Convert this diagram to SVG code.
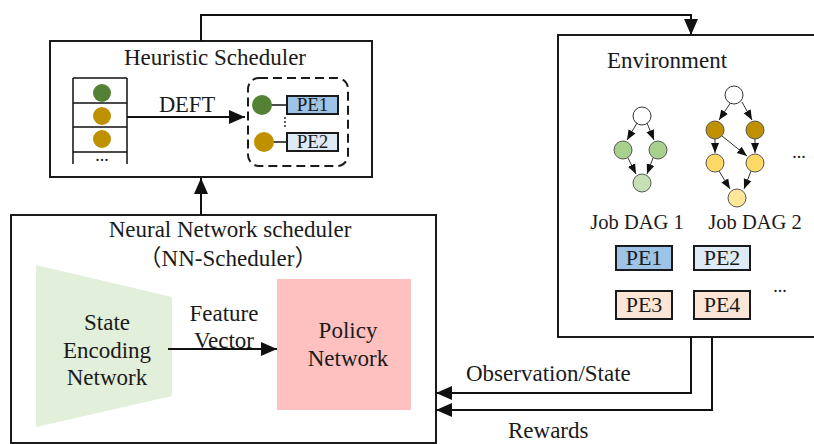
<svg xmlns="http://www.w3.org/2000/svg" width="814" height="444" viewBox="0 0 814 444" font-family="'Liberation Serif', 'Times New Roman', serif" font-size="23" fill="#1a1a1a">
<defs>
<style>
.box{fill:#fff;stroke:#1a1a1a;stroke-width:2}
.ln{fill:none;stroke:#111;stroke-width:2}
.thin{fill:none;stroke:#111;stroke-width:1.5}
.pe{stroke:#1a1a1a;stroke-width:2}
.dn{stroke:#333;stroke-width:1}
</style>
<marker id="ah" markerUnits="userSpaceOnUse" markerWidth="16" markerHeight="16" viewBox="0 0 16 16" refX="16" refY="8" orient="auto">
<path d="M0,1 L16,8 L0,15 Z" fill="#111"/>
</marker>
<marker id="as" markerUnits="userSpaceOnUse" markerWidth="10" markerHeight="10" viewBox="0 0 10 10" refX="10" refY="5" orient="auto">
<path d="M0,1 L10,5 L0,9 Z" fill="#111"/>
</marker>
</defs>

<g id="heuristic">
<rect class="box" x="50" y="41" width="322" height="136"/>
<text x="215" y="65" text-anchor="middle">Heuristic Scheduler</text>
<path class="thin" d="M73,164 V78 M127,164 V78 M73,78 H127 M73,103 H127 M73,127 H127 M73,152 H127"/>
<circle cx="102" cy="93" r="9" fill="#548235"/>
<circle cx="102" cy="116" r="9" fill="#BF9000"/>
<circle cx="102" cy="139" r="9" fill="#BF9000"/>
<text x="102" y="161" text-anchor="middle" font-size="18">...</text>
<text x="187" y="112" text-anchor="middle" font-size="22.5">DEFT</text>
<rect x="248" y="78" width="100" height="88" rx="11" fill="none" stroke="#1a1a1a" stroke-width="2" stroke-dasharray="9,5"/>
<line x1="262" y1="105" x2="287" y2="105" stroke="#111" stroke-width="1.5"/>
<line x1="264" y1="142" x2="287" y2="142" stroke="#111" stroke-width="1.5"/>
<circle cx="262" cy="105" r="10" fill="#548235"/>
<circle cx="264" cy="142" r="10" fill="#BF9000"/>
<rect class="pe" x="287" y="96" width="51" height="18" fill="#9DC3E6"/>
<text x="312.5" y="111" text-anchor="middle" font-size="19">PE1</text>
<rect class="pe" x="287" y="133" width="51" height="18" fill="#DEEBF7"/>
<text x="312.5" y="148" text-anchor="middle" font-size="19">PE2</text>
<circle cx="285" cy="118" r="0.9" fill="#111"/>
<circle cx="285" cy="122" r="0.9" fill="#111"/>
<circle cx="285" cy="126" r="0.9" fill="#111"/>
</g>

<g id="environment">
<rect class="box" x="558" y="35" width="270" height="302"/>
<text x="607" y="68">Environment</text>
<g id="dag1">
<line class="dn" x1="637" y1="123" x2="627" y2="140" marker-end="url(#as)"/>
<line class="dn" x1="647" y1="123" x2="654" y2="140" marker-end="url(#as)"/>
<line class="dn" x1="628" y1="158" x2="636" y2="174" marker-end="url(#as)"/>
<line class="dn" x1="653" y1="158" x2="647" y2="174" marker-end="url(#as)"/>
<circle cx="642" cy="116" r="9" fill="#fff" stroke="#333"/>
<circle cx="623" cy="150" r="9" fill="#A9D18E" stroke="#555"/>
<circle cx="658" cy="150" r="9" fill="#A9D18E" stroke="#555"/>
<circle cx="642" cy="183" r="9" fill="#C5E0B4" stroke="#555"/>
<text x="637" y="229" text-anchor="middle" font-size="20.5">Job DAG 1</text>
</g>
<g id="dag2">
<line class="dn" x1="731" y1="102" x2="719" y2="120" marker-end="url(#as)"/>
<line class="dn" x1="742" y1="102" x2="752" y2="120" marker-end="url(#as)"/>
<line class="dn" x1="715" y1="139" x2="715" y2="153" marker-end="url(#as)"/>
<line class="dn" x1="722" y1="136" x2="747" y2="156" marker-end="url(#as)"/>
<line class="dn" x1="755" y1="139" x2="755" y2="153" marker-end="url(#as)"/>
<line class="dn" x1="719" y1="171" x2="730" y2="189" marker-end="url(#as)"/>
<line class="dn" x1="751" y1="171" x2="744" y2="189" marker-end="url(#as)"/>
<circle cx="734" cy="95" r="9" fill="#fff" stroke="#333"/>
<circle cx="715" cy="130" r="9" fill="#BF9000" stroke="#555"/>
<circle cx="755" cy="130" r="9" fill="#BF9000" stroke="#555"/>
<circle cx="715" cy="163" r="9" fill="#FFD966" stroke="#555"/>
<circle cx="755" cy="163" r="9" fill="#FFD966" stroke="#555"/>
<circle cx="737" cy="198" r="9" fill="#FFE699" stroke="#555"/>
<text x="755" y="229" text-anchor="middle" font-size="20.5">Job DAG 2</text>
</g>
<text x="799" y="158" text-anchor="middle" font-size="18">...</text>
<rect class="pe" x="616" y="246" width="56" height="24" fill="#9DC3E6"/>
<text x="644" y="265" text-anchor="middle" font-size="22">PE1</text>
<rect class="pe" x="694" y="246" width="56" height="24" fill="#DEEBF7"/>
<text x="722" y="265" text-anchor="middle" font-size="22">PE2</text>
<rect class="pe" x="616" y="291" width="56" height="28" fill="#FBE5D6"/>
<text x="644" y="312" text-anchor="middle" font-size="22">PE3</text>
<rect class="pe" x="694" y="291" width="56" height="28" fill="#FBE5D6"/>
<text x="722" y="312" text-anchor="middle" font-size="22">PE4</text>
<text x="780" y="292" text-anchor="middle" font-size="18">...</text>
</g>

<g id="nn-scheduler">
<rect class="box" x="11" y="215" width="425" height="228"/>
<text x="230" y="237" text-anchor="middle">Neural Network scheduler</text>
<text x="228" y="266" text-anchor="middle" font-family="'Liberation Serif', 'Noto Sans CJK SC', serif">（NN-Scheduler）</text>
<g id="state-encoding">
<path d="M36,265 L172,297 L172,396 L36,427 Z" fill="#E2EFDA"/>
<text x="107" y="330" text-anchor="middle">State</text>
<text x="107" y="358" text-anchor="middle">Encoding</text>
<text x="107" y="385" text-anchor="middle">Network</text>
</g>
<g id="policy">
<rect x="277" y="279" width="134" height="131" fill="#FFC0C0"/>
<text x="348" y="338" text-anchor="middle">Policy</text>
<text x="348" y="366" text-anchor="middle">Network</text>
</g>
<text x="224" y="321" text-anchor="middle">Feature</text>
<text x="224" y="348" text-anchor="middle">Vector</text>
</g>

<g id="connectors">
<path class="ln" d="M127,117 H245" marker-end="url(#ah)"/>
<path class="ln" d="M168,349 H277" marker-end="url(#ah)"/>
<path class="ln" d="M201,215 V178" marker-end="url(#ah)"/>
<path class="ln" d="M201,41 V15 H691 V35" marker-end="url(#ah)"/>
<path class="ln" d="M691,337 V393 H436" marker-end="url(#ah)"/>
<path class="ln" d="M712,337 V410 H436" marker-end="url(#ah)"/>
<text x="466" y="381">Observation/State</text>
<text x="508" y="438">Rewards</text>
</g>
</svg>
